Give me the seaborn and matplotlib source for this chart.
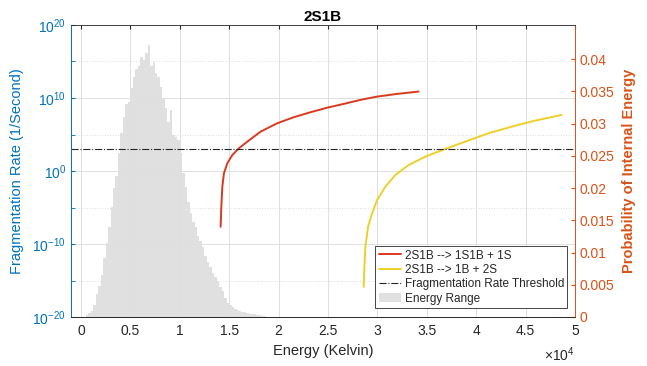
import numpy as np
import pandas as pd
import matplotlib
matplotlib.use("Agg")
import matplotlib.pyplot as plt
from matplotlib.lines import Line2D
from matplotlib.patches import Patch
from matplotlib.ticker import FixedLocator, FuncFormatter
import seaborn as sns

# ---- data ----
# fragmentation rate curves (energy in K, rate in 1/s)
red_energy = [14141, 14212, 14313, 14475, 14818, 15323, 15990, 16838, 18182, 19869,
              21545, 23232, 25000, 26596, 28283, 29970, 31990, 34172]
red_log_rate = [-7.64, -4.90, -2.15, -0.32, 1.06, 2.19, 3.11, 4.02, 5.39, 6.54,
                7.37, 8.05, 8.70, 9.19, 9.74, 10.19, 10.56, 10.88]

yel_energy = [28616, 28687, 28788, 29061, 29465, 29970, 30808, 31818, 33162, 34848,
              36869, 38889, 41242, 43606, 45960, 48657]
yel_log_rate = [-15.87, -13.13, -10.38, -7.64, -5.80, -3.98, -2.15, -0.55, 0.82, 1.96,
                3.02, 4.02, 5.17, 6.08, 6.90, 7.68]

threshold = 1e3

# internal energy distribution (bin width 250 K, first bin 500-750 K)
bin_start = 500
bin_width = 250
bin_probs = [0.0003, 0.0006, 0.0010, 0.0019, 0.0035, 0.0048, 0.0065, 0.0092, 0.0115, 0.0140,
             0.0170, 0.0200, 0.0218, 0.0255, 0.0285, 0.0310, 0.0330, 0.0333, 0.0355, 0.0372,
             0.0384, 0.0389, 0.0404, 0.0399, 0.0410, 0.0422, 0.0389, 0.0396, 0.0378, 0.0372,
             0.0357, 0.0340, 0.0324, 0.0303, 0.0321, 0.0283, 0.0280, 0.0274, 0.0254, 0.0223,
             0.0202, 0.0179, 0.0161, 0.0148, 0.0140, 0.0125, 0.0118, 0.0108, 0.0094, 0.0085,
             0.0077, 0.0069, 0.0062, 0.0056, 0.0047, 0.0040, 0.0030, 0.0022, 0.0018, 0.0015,
             0.0013, 0.0011, 0.0009, 0.0008, 0.0007, 0.0006, 0.0005, 0.0005, 0.0004, 0.0003,
             0.0003, 0.0002, 0.0002]

x_ticks = [0, 5000, 10000, 15000, 20000, 25000, 30000, 35000, 40000, 45000, 50000]
left_ticks = [1e-20, 1e-10, 1e0, 1e10, 1e20]
left_minor = [1e-15, 1e-5, 1e5, 1e15]
right_ticks = [0, 0.005, 0.01, 0.015, 0.02, 0.025, 0.03, 0.035, 0.04]

labels = ["2S1B --> 1S1B + 1S", "2S1B --> 1B + 2S",
          "Fragmentation Rate Threshold", "Energy Range"]

# ---- style ----
BLUE = "#0072BD"
ORANGE = "#D95319"
RED = "#D93A1F"
YELLOW = "#EDD02A"
GRAYBAR = "#e0e0e0"
DARK = "#262626"

sns.set_style("white")
plt.rcParams["font.family"] = ["Liberation Sans", "DejaVu Sans"]
plt.rcParams["mathtext.fontset"] = "custom"
plt.rcParams["mathtext.rm"] = "Liberation Sans"

fig = plt.figure(figsize=(6.47, 3.66), dpi=100)
ax1 = fig.add_axes([71 / 647, 49 / 366, 504 / 647, 292 / 366])
ax2 = ax1.twinx()
ax1.set_zorder(ax2.get_zorder() + 1)
ax1.patch.set_visible(False)

# histogram on the right axis (one filled step polygon, no seams between bars)
edges = bin_start + bin_width * np.arange(len(bin_probs) + 1)
hist_df = pd.DataFrame({"energy": (edges[:-1] + edges[1:]) / 2, "prob": bin_probs})
sns.histplot(data=hist_df, x="energy", weights="prob", bins=list(edges), ax=ax2,
             element="step", fill=True, color=GRAYBAR, alpha=1.0, linewidth=0)

# rate curves on the left (log) axis
rate_df = pd.concat([
    pd.DataFrame({"energy": red_energy, "rate": 10.0 ** np.array(red_log_rate), "ch": labels[0]}),
    pd.DataFrame({"energy": yel_energy, "rate": 10.0 ** np.array(yel_log_rate), "ch": labels[1]}),
])
sns.lineplot(data=rate_df, x="energy", y="rate", hue="ch", palette=[RED, YELLOW],
             ax=ax1, linewidth=1.4, sort=False, legend=False)
ax1.axhline(threshold, color=DARK, linestyle="-.", linewidth=0.8)

ax1.set_yscale("log")
ax1.set_xlim(-1000, 50000)
ax1.set_ylim(1e-20, 1e20)
ax2.set_ylim(0, 0.0453)

ax1.xaxis.set_major_locator(FixedLocator(x_ticks))
ax1.xaxis.set_major_formatter(FuncFormatter(lambda v, p: f"{v / 1e4:g}"))
ax1.yaxis.set_major_locator(FixedLocator(left_ticks))
ax1.yaxis.set_minor_locator(FixedLocator(left_minor))
ax1.yaxis.set_major_formatter(FuncFormatter(lambda v, p: rf"$10^{{{int(round(np.log10(v)))}}}$"))
ax1.yaxis.set_minor_formatter(FuncFormatter(lambda v, p: ""))
ax2.yaxis.set_major_locator(FixedLocator(right_ticks))
ax2.yaxis.set_major_formatter(FuncFormatter(lambda v, p: f"{v:g}"))

ax1.grid(True, which="major", color="#dedede", linewidth=0.7)
ax1.grid(True, which="minor", axis="y", color="#dedede", linewidth=0.7, linestyle=":")

ax1.tick_params(axis="x", which="both", direction="in", top=True, length=3,
                color=DARK, labelcolor=DARK, labelsize=10, pad=5)
ax1.tick_params(axis="y", which="both", direction="in", left=True, right=False,
                length=3, color=BLUE, labelcolor=BLUE, labelsize=10)
ax2.tick_params(axis="y", which="both", direction="in", right=True, length=3,
                color=ORANGE, labelcolor=ORANGE, labelsize=10)

for ax in (ax1, ax2):
    for side in ("top", "bottom"):
        ax.spines[side].set_color(DARK)
        ax.spines[side].set_linewidth(0.6)
    ax.spines["left"].set_color(BLUE)
    ax.spines["right"].set_color(ORANGE)
    ax.spines["left"].set_linewidth(0.6)
    ax.spines["right"].set_linewidth(0.6)

ax1.set_xlabel("Energy (Kelvin)", fontsize=10.5, color=DARK, labelpad=4)
ax1.set_ylabel("Fragmentation Rate (1/Second)", fontsize=10.5, color=BLUE, labelpad=6)
ax2.set_ylabel("Probability of Internal Energy", fontsize=10.5, color=ORANGE,
               fontweight="bold", labelpad=5)
ax1.set_title("2S1B", fontsize=11, fontweight="bold", color="black", pad=3)
ax1.text(1.0, -0.13, r"$\times10^{4}$", transform=ax1.transAxes, ha="right",
         va="center", fontsize=10, color=DARK)

handles = [Line2D([], [], color=RED, linewidth=1.4),
           Line2D([], [], color=YELLOW, linewidth=1.4),
           Line2D([], [], color=DARK, linestyle="-.", linewidth=0.8),
           Patch(facecolor=GRAYBAR, edgecolor="none")]
leg = ax1.legend(handles, labels, loc="lower right", bbox_to_anchor=(0.985, 0.03),
                 fontsize=8.5, frameon=True, fancybox=False, framealpha=1,
                 edgecolor=DARK, handlelength=1.9, handletextpad=0.3,
                 borderpad=0.3, labelspacing=0.2, borderaxespad=0)
leg.get_frame().set_linewidth(0.6)

fig.savefig("out.png", dpi=100)
